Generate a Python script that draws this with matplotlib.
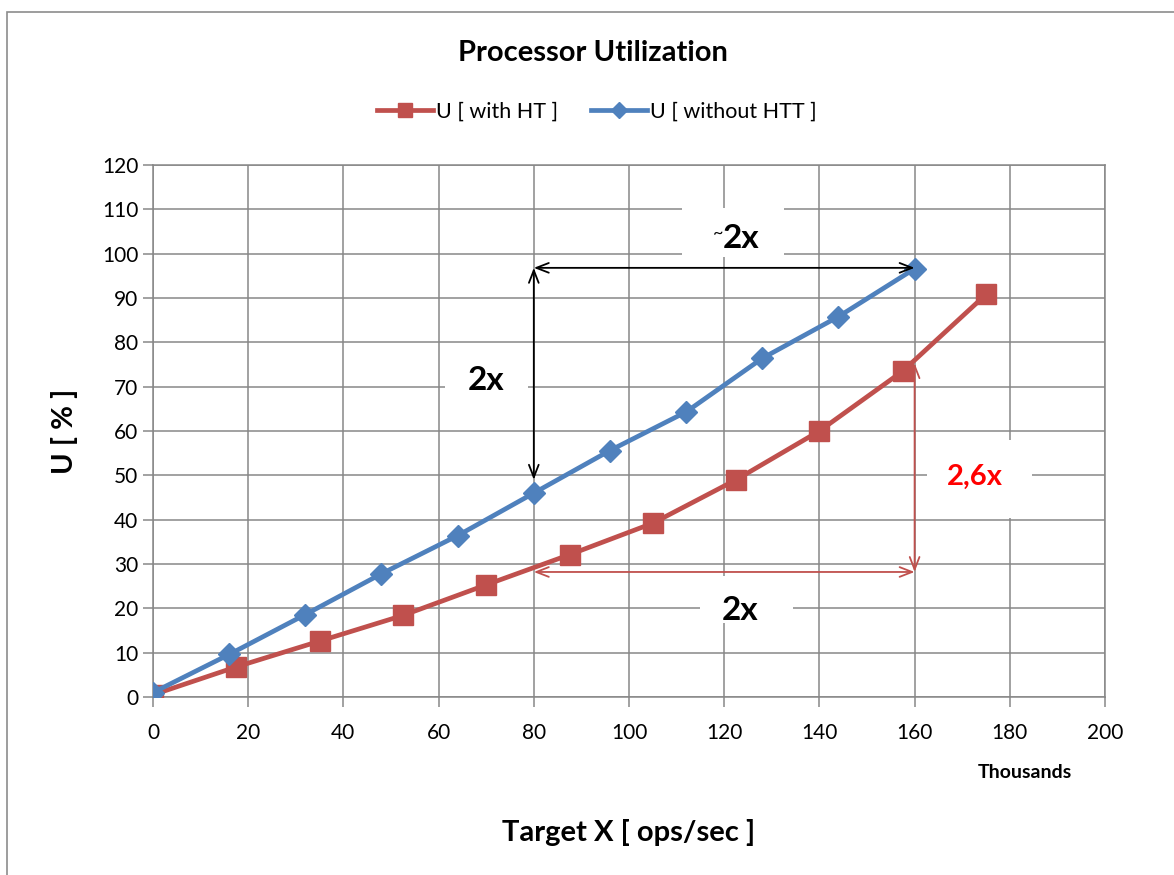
import matplotlib.pyplot as plt
from matplotlib.patches import Rectangle

plt.rcParams['font.family'] = ['Lato', 'DejaVu Sans']

# target throughput (thousands of ops/sec) and utilization (%)
x_ht = [0, 17.5, 35, 52.5, 70, 87.5, 105, 122.5, 140, 157.5, 175]
u_ht = [0.5, 6.8, 12.6, 18.4, 25.3, 32.1, 39.2, 49.0, 60.0, 73.5, 90.8]
x_noht = [0, 16, 32, 48, 64, 80, 96, 112, 128, 144, 160]
u_noht = [1.0, 9.6, 18.6, 27.8, 36.4, 46.0, 55.6, 64.3, 76.4, 85.8, 96.6]

xticks = list(range(0, 201, 20))
yticks = list(range(0, 121, 10))

red = '#C0504D'
blue = '#4F81BD'
grid_c = '#878787'

fig = plt.figure(figsize=(11.74, 8.75), dpi=100)
ax = fig.add_axes([153/1174, 1 - 697/875, (1105 - 153)/1174, (697 - 165)/875])

ax.plot(x_ht, u_ht, color=red, lw=3.4, marker='s', ms=14, label='U [ with HT ]', zorder=5)
ax.plot(x_noht, u_noht, color=blue, lw=3.4, marker='D', ms=11, label='U [ without HTT ]', zorder=6)

ax.set_xlim(0, 200)
ax.set_ylim(0, 120)
ax.set_xticks(xticks)
ax.set_yticks(yticks)
ax.tick_params(labelsize=15, colors=grid_c, labelcolor='black', length=7, width=1.1, direction='out')
ax.tick_params(axis='x', pad=12)
ax.grid(True, color=grid_c, lw=1.1)
ax.set_axisbelow(True)
for s in ax.spines.values():
    s.set_color(grid_c)
    s.set_linewidth(1.1)

ax.set_ylabel('U [ % ]', fontsize=21, fontweight='bold', labelpad=17)
fig.text(629/1174, 1 - 832/875, 'Target X [ ops/sec ]', fontsize=21, fontweight='bold',
         ha='center', va='center')
fig.text(1025/1174, 1 - 772/875, 'Thousands', fontsize=14, fontweight='bold',
         ha='center', va='center')
fig.text(593/1174, 1 - 53/875, 'Processor Utilization', fontsize=21, fontweight='bold',
         ha='center', va='center')

fig.legend(loc='center', bbox_to_anchor=(597/1174, 1 - 112/875), ncol=2, frameon=False,
           fontsize=15.5, handlelength=2.6, handletextpad=0.15, columnspacing=1.5,
           markerscale=0.75)

# white boxes behind the ratio labels
boxes = [(111.2, 99.3, 21.4, 10.9), (61.4, 60.6, 17.4, 18.9),
         (162.6, 40.4, 22.1, 17.6), (114.9, 16.7, 19.6, 10.6)]
for bx, by, bw, bh in boxes:
    ax.add_patch(Rectangle((bx, by), bw, bh, facecolor='white', edgecolor='none',
                           zorder=2, clip_on=False))

arrow_k = dict(arrowstyle='<->,head_length=0.9,head_width=0.35', color='black', lw=1.3,
               shrinkA=0, shrinkB=0)
arrow_r = dict(arrowstyle='<->,head_length=0.9,head_width=0.35', color=red, lw=1.3,
               shrinkA=0, shrinkB=0)
ax.annotate('', xy=(80, 96.8), xytext=(160, 96.8), arrowprops=arrow_k, zorder=7)
ax.annotate('', xy=(80, 96.8), xytext=(80, 49), arrowprops=arrow_k, zorder=7)
ax.annotate('', xy=(80, 28.2), xytext=(160, 28.2), arrowprops=arrow_r, zorder=7)
ax.annotate('', xy=(160, 75.3), xytext=(160, 28.2), arrowprops=arrow_r, zorder=7)

ax.text(119.8, 104.5, '~', fontsize=13, ha='right', va='center', zorder=8)
ax.text(119.8, 103.5, '2x', fontsize=24, fontweight='bold', ha='left', va='center', zorder=8)
ax.text(70, 71.3, '2x', fontsize=24, fontweight='bold', ha='center', va='center', zorder=8)
ax.text(172.7, 49.6, '2,6x', fontsize=21, fontweight='bold', color='#FF0000',
        ha='center', va='center', zorder=8)
ax.text(123.3, 19.6, '2x', fontsize=24, fontweight='bold', ha='center', va='center', zorder=8)

# outer chart frame
fig.add_artist(Rectangle((7/1174, -0.1), 1.2, 1.1 - 12/875, transform=fig.transFigure,
                         fill=False, edgecolor='#8c8c8c', lw=1.2))

fig.savefig('out.png', dpi=100)
